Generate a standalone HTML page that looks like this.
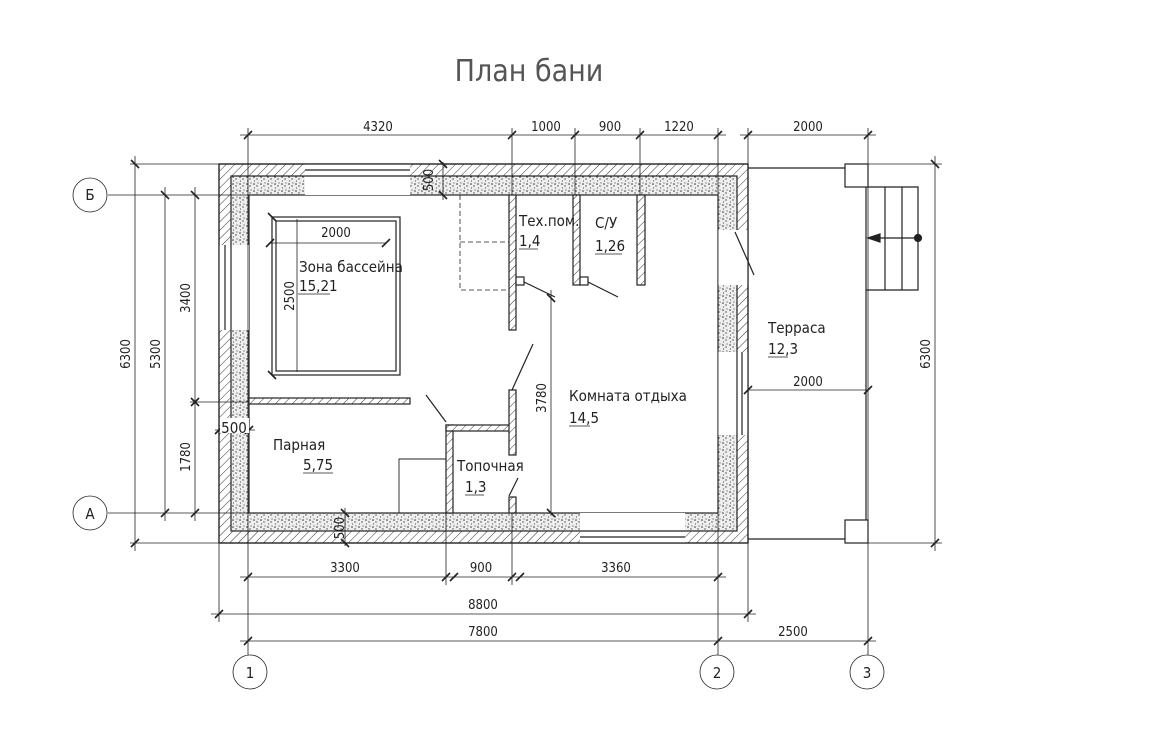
<!DOCTYPE html>
<html><head><meta charset="utf-8"><style>
body{margin:0;background:#fff}
svg{display:block}
text{font-family:"DejaVu Sans Condensed","Liberation Sans Narrow","Liberation Sans",sans-serif;fill:#222}
</style></head><body>
<svg width="1163" height="732" viewBox="0 0 1163 732" xmlns="http://www.w3.org/2000/svg">
<defs>
<pattern id="h" width="6" height="6" patternUnits="userSpaceOnUse" patternTransform="rotate(45)">
<rect width="6" height="6" fill="#fff"/><line x1="0" y1="0" x2="0" y2="6" stroke="#333" stroke-width="1"/></pattern>
<pattern id="d" width="7" height="7" patternUnits="userSpaceOnUse">
<rect width="7" height="7" fill="#eee"/><circle cx="2" cy="2" r="0.8" fill="#333"/><circle cx="5" cy="4" r="0.7" fill="#444"/><circle cx="2.5" cy="6" r="0.6" fill="#555"/><circle cx="6" cy="1" r="0.6" fill="#555"/></pattern>
</defs>
<g stroke="#222" stroke-width="1.2" fill="none">
<rect x="219" y="164" width="529" height="379" fill="url(#h)"/>
<rect x="231" y="176" width="506" height="355" fill="url(#d)"/>
<rect x="249" y="195" width="469" height="318" fill="#fff"/>
<rect x="305" y="164" width="105" height="31" fill="#fff" stroke="none"/>
<line x1="305" y1="170" x2="410" y2="170"/><line x1="305" y1="176" x2="410" y2="176"/>
<rect x="219" y="245" width="30" height="85" fill="#fff" stroke="none"/>
<line x1="225" y1="245" x2="225" y2="330"/><line x1="231" y1="245" x2="231" y2="330"/>
<rect x="718" y="230" width="30" height="55" fill="#fff" stroke="none"/>
<rect x="718" y="352" width="30" height="83" fill="#fff" stroke="none"/>
<line x1="737" y1="352" x2="737" y2="435"/><line x1="742" y1="352" x2="742" y2="435"/>
<rect x="580" y="513" width="105" height="30" fill="#fff" stroke="none"/>
<line x1="580" y1="531" x2="685" y2="531"/><line x1="580" y1="537" x2="685" y2="537"/>
<line x1="219" y1="164" x2="748" y2="164"/><line x1="219" y1="543" x2="748" y2="543"/>
<line x1="219" y1="164" x2="219" y2="543"/><line x1="748" y1="164" x2="748" y2="543"/>
<line x1="735" y1="232" x2="754" y2="275"/>
<rect x="509" y="195" width="7" height="135" fill="url(#h)"/>
<rect x="573" y="195" width="7" height="90" fill="url(#h)"/>
<rect x="637" y="195" width="8" height="90" fill="url(#h)"/>
<rect x="516" y="277" width="8" height="8" fill="#fff"/>
<rect x="580" y="277" width="8" height="8" fill="#fff"/>
<line x1="524" y1="282" x2="555" y2="297"/><line x1="588" y1="282" x2="618" y2="297"/>
<line x1="533" y1="344" x2="512" y2="390"/>
<path d="M460 195V290H509M460 242H509" stroke-dasharray="5 3" stroke-width="0.8"/>
<rect x="249" y="398" width="161" height="6" fill="url(#h)"/>
<rect x="446" y="425" width="7" height="88" fill="url(#h)"/>
<rect x="446" y="425" width="64" height="6" fill="url(#h)"/>
<rect x="509" y="390" width="7" height="65" fill="url(#h)"/>
<rect x="509" y="497" width="7" height="16" fill="url(#h)"/>
<line x1="426" y1="395" x2="446" y2="422"/><line x1="509" y1="496" x2="518" y2="478"/>
<path d="M399 513V459H446" stroke-width="0.9"/>
<rect x="272" y="217" width="128" height="158"/><rect x="276" y="221" width="120" height="150"/>
<line x1="270" y1="243" x2="386" y2="243" stroke-width="0.8"/>
<line x1="297" y1="219" x2="297" y2="372" stroke-width="0.8"/>
<path d="M748 168H845M748 539H845"/>
<rect x="845" y="164" width="23" height="23" fill="#fff"/>
<rect x="845" y="520" width="23" height="23" fill="#fff"/>
<path d="M866 187V520"/>
<path d="M868 187H918V290H866M885 187V290M902 187V290"/>
<line x1="918" y1="238" x2="872" y2="238"/>
<polygon points="868,238 880,234 880,242" fill="#222"/>
<circle cx="918" cy="238" r="3.5" fill="#222"/>
<line x1="748" y1="390" x2="868" y2="390" stroke-width="0.8"/>
</g>
<g stroke="#222" stroke-width="0.8" fill="none">
<line x1="240" y1="135" x2="726" y2="135"/><line x1="740" y1="135" x2="876" y2="135"/>
<line x1="240" y1="577" x2="726" y2="577"/><line x1="211" y1="614" x2="756" y2="614"/><line x1="240" y1="641" x2="876" y2="641"/>
<line x1="135" y1="156" x2="135" y2="551"/><line x1="165" y1="187" x2="165" y2="521"/><line x1="195" y1="187" x2="195" y2="521"/>
<line x1="935" y1="156" x2="935" y2="551"/>
<line x1="551" y1="290" x2="551" y2="513"/>
<line x1="443" y1="162" x2="443" y2="200"/><line x1="345" y1="508" x2="345" y2="546"/>
<line x1="215" y1="430" x2="255" y2="430"/>
<path d="M248 128V655M718 128V655M868 128V655M512 128V195M575 128V195M640 128V195M748 128V164M446 513V585M512 513V585M219 543V622M748 543V622"/>
<path d="M130 164H219M130 543H219M108 195H249M108 513H249M868 164H942M868 543H942M190 402H249"/>
<g stroke-width="1.6">
<path d="M244 139l8-8M508 139l8-8M571 139l8-8M636 139l8-8M714 139l8-8M744 139l8-8M864 139l8-8"/>
<path d="M244 581l8-8M442 581l8-8M450 581l8-8M508 581l8-8M516 581l8-8M714 581l8-8"/>
<path d="M215 618l8-8M744 618l8-8M244 645l8-8M714 645l8-8M864 645l8-8"/>
<path d="M131 160l8 8M131 547l8-8M161 191l8 8M161 517l8-8M191 191l8 8M191 398l8 8M191 406l8-8M191 517l8-8M931 160l8 8M931 547l8-8"/>
<path d="M439 160l8 8M439 191l8 8M341 509l8 8M341 539l8 8M215 434l8-8M245 434l8-8M547 294l8 8M547 509l8 8"/>
<path d="M268 213l8 8M268 371l8 8M266 247l8-8M382 247l8-8M744 394l8-8M864 394l8-8"/>
</g>
<circle cx="90" cy="195" r="17"/><circle cx="90" cy="513" r="17"/>
<circle cx="250" cy="672" r="17"/><circle cx="717" cy="672" r="17"/><circle cx="867" cy="672" r="17"/>
</g>
<g font-size="13">
<text x="529" y="81" font-size="30" text-anchor="middle" style="fill:#555;font-family:'Liberation Sans Narrow','DejaVu Sans Condensed',sans-serif">План бани</text>
<text x="378" y="131" text-anchor="middle">4320</text>
<text x="546" y="131" text-anchor="middle">1000</text>
<text x="610" y="131" text-anchor="middle">900</text>
<text x="679" y="131" text-anchor="middle">1220</text>
<text x="808" y="131" text-anchor="middle">2000</text>
<text x="345" y="572" text-anchor="middle">3300</text>
<text x="481" y="572" text-anchor="middle">900</text>
<text x="616" y="572" text-anchor="middle">3360</text>
<text x="483" y="609" text-anchor="middle">8800</text>
<text x="483" y="636" text-anchor="middle">7800</text>
<text x="793" y="636" text-anchor="middle">2500</text>
<text x="808" y="386" text-anchor="middle">2000</text>
<text x="336" y="237" text-anchor="middle">2000</text>
<text transform="translate(130,354) rotate(-90)" text-anchor="middle">6300</text>
<text transform="translate(160,354) rotate(-90)" text-anchor="middle">5300</text>
<text transform="translate(190,298) rotate(-90)" text-anchor="middle">3400</text>
<text transform="translate(190,457) rotate(-90)" text-anchor="middle">1780</text>
<text transform="translate(930,354) rotate(-90)" text-anchor="middle">6300</text>
<text transform="translate(294,296) rotate(-90)" text-anchor="middle">2500</text>
<text transform="translate(546,398) rotate(-90)" text-anchor="middle">3780</text>
<text transform="translate(433,180) rotate(-90)" text-anchor="middle">500</text>
<text transform="translate(344,528) rotate(-90)" text-anchor="middle">500</text>
<rect x="220" y="418" width="29" height="15" fill="#fff"/>
<text x="234" y="433" text-anchor="middle" font-size="15">500</text>
<g font-size="15">
<text x="90" y="200" text-anchor="middle">Б</text><text x="90" y="519" text-anchor="middle">А</text>
<text x="250" y="678" text-anchor="middle">1</text><text x="717" y="678" text-anchor="middle">2</text><text x="867" y="678" text-anchor="middle">3</text>
<text x="299" y="272">Зона бассейна</text><text x="299" y="291">15,21</text>
<text x="519" y="226">Тех.пом.</text><text x="519" y="246">1,4</text>
<text x="595" y="228">С/У</text><text x="595" y="251">1,26</text>
<text x="273" y="450">Парная</text><text x="303" y="470">5,75</text>
<text x="457" y="471">Топочная</text><text x="465" y="492">1,3</text>
<text x="569" y="401">Комната отдыха</text><text x="569" y="423">14,5</text>
<text x="768" y="333">Терраса</text><text x="768" y="354">12,3</text>
</g>
</g>
<g stroke="#222" stroke-width="0.8">
<path d="M298 294H330M519 249H538M595 254H622M303 473H333M465 495H484M569 426H590M768 357H788"/>
</g>
</svg>
</body></html>
